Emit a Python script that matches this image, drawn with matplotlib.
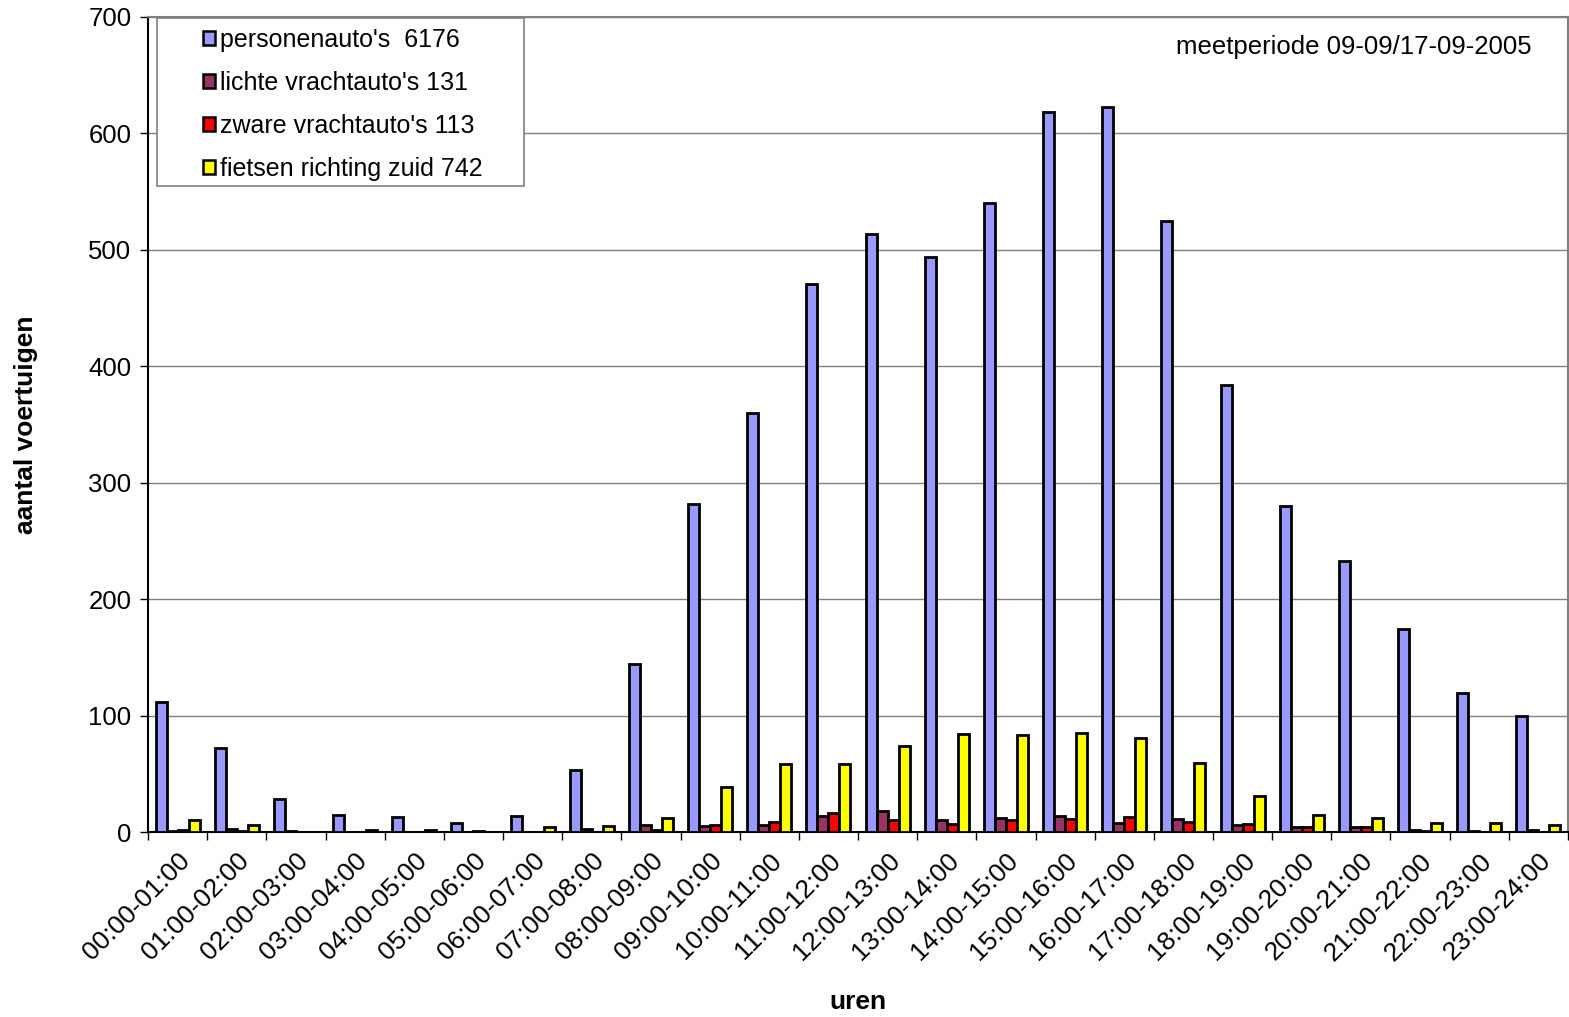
import numpy as np
import matplotlib.pyplot as plt
from matplotlib.patches import Patch, Rectangle

plt.rcParams['font.family'] = ['Liberation Sans', 'DejaVu Sans']

uren = ['00:00-01:00', '01:00-02:00', '02:00-03:00', '03:00-04:00', '04:00-05:00',
        '05:00-06:00', '06:00-07:00', '07:00-08:00', '08:00-09:00', '09:00-10:00',
        '10:00-11:00', '11:00-12:00', '12:00-13:00', '13:00-14:00', '14:00-15:00',
        '15:00-16:00', '16:00-17:00', '17:00-18:00', '18:00-19:00', '19:00-20:00',
        '20:00-21:00', '21:00-22:00', '22:00-23:00', '23:00-24:00']

personenautos = [112, 72, 28, 15, 13, 8, 14, 53, 144, 282, 360, 471,
                 514, 494, 540, 618, 623, 525, 384, 280, 233, 174, 119, 100]
lichte_vracht = [1, 3, 1, 0, 0, 0, 0, 3, 6, 5, 6, 14,
                 18, 10, 12, 14, 8, 11, 6, 4, 4, 2, 1, 2]
zware_vracht = [2, 1, 0, 0, 0, 1, 0, 0, 2, 6, 9, 16,
                10, 7, 10, 11, 13, 9, 7, 4, 4, 1, 0, 0]
fietsen = [10, 6, 0, 2, 2, 0, 4, 5, 12, 39, 58, 58,
           74, 84, 83, 85, 81, 59, 31, 15, 12, 8, 8, 6]

series = [personenautos, lichte_vracht, zware_vracht, fietsen]
labels = ["personenauto's  6176", "lichte vrachtauto's 131",
          "zware vrachtauto's 113", "fietsen richting zuid 742"]
colors = ['#9999FF', '#993366', '#FF0000', '#FFFF00']

W, H = 1569, 1017
fig = plt.figure(figsize=(W / 100, H / 100), dpi=100)
ax = fig.add_axes([148 / W, 1 - 832 / H, 1420 / W, 815 / H])

x = np.arange(len(uren))
w = 0.186
for k, (vals, col) in enumerate(zip(series, colors)):
    ax.bar(x + (k - 1.5) * w, vals, w, color=col, edgecolor='black', linewidth=2, zorder=3)

ax.set_xlim(-0.5, len(uren) - 0.5)
ax.set_ylim(0, 700)
ax.set_yticks(np.arange(0, 701, 100))
ax.yaxis.grid(True, color='#808080', linewidth=1)
ax.set_axisbelow(True)

ax.set_xticks(x)
ax.set_xticklabels(uren, rotation=45, ha='right', rotation_mode='anchor', fontsize=19)
ax.set_xticks(np.arange(-0.5, len(uren), 1), minor=True)
ax.tick_params(axis='x', which='major', length=0, pad=12)
ax.tick_params(axis='x', which='minor', length=6, width=1, direction='out')
ax.tick_params(axis='y', length=6, width=1, labelsize=18.5, pad=6)

for s in ['top', 'right']:
    ax.spines[s].set_color('#808080')
    ax.spines[s].set_linewidth(1.5)
for s in ['left', 'bottom']:
    ax.spines[s].set_color('black')
    ax.spines[s].set_linewidth(1.5)

ax.set_ylabel('aantal voertuigen', fontsize=19, fontweight='bold', labelpad=36)
ax.set_xlabel('uren', fontsize=19, fontweight='bold', labelpad=18)

fig.text(1532 / W, 1 - 47 / H, 'meetperiode 09-09/17-09-2005',
         ha='right', va='center', fontsize=18.5)

# legend frame drawn separately so the entries can sit inset like the original
fig.patches.append(Rectangle((157 / W, 1 - 186 / H), (524 - 157) / W, (186 - 18) / H,
                             transform=fig.transFigure, facecolor='white',
                             edgecolor='#808080', linewidth=1.2, zorder=5))
handles = [Patch(facecolor=c, edgecolor='black', linewidth=1.8) for c in colors]
leg = fig.legend(handles, labels, loc='upper left', bbox_to_anchor=(203 / W, 1 - 28 / H),
                 fontsize=18, frameon=False, handlelength=0.5, handleheight=0.5,
                 handletextpad=0.2, labelspacing=0.76, borderpad=0.0,
                 borderaxespad=0.0)
leg.set_zorder(6)

fig.savefig('out.png', dpi=100)
